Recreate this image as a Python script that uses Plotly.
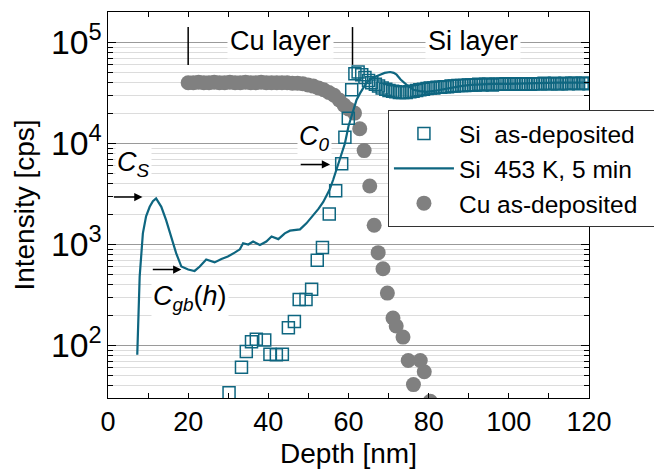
import numpy as np
import plotly.graph_objects as go

FONT = "Liberation Sans, Arial, sans-serif"
TEAL = "#0e6680"
GREY = "#808080"

# ---- data ----
si_asdep_depth = [30.2, 33.3, 34.5, 35.8, 37.0, 39.1, 40.4, 42.0, 43.5, 45.0, 46.5, 47.7, 49.4, 50.8,
                  52.2, 53.5, 55.2, 56.8, 58.3, 59.1, 59.95, 60.8, 61.6, 62.4, 63.3, 64.1, 65.0, 65.8,
                  66.7, 67.5, 68.4, 69.3, 70.1, 71.0, 71.8, 72.7, 73.5, 74.4, 75.3, 76.1, 77.0, 77.8,
                  78.7, 79.6, 80.4, 81.3, 82.1, 83.0, 83.9, 84.7, 85.6, 86.4, 87.3, 88.2, 89.0, 89.9,
                  90.7, 91.6, 92.5, 93.3, 94.2, 95.0, 95.9, 96.8, 97.6, 98.5, 99.3, 100.2, 101.1, 101.9,
                  102.8, 103.6, 104.5, 105.4, 106.2, 107.1, 107.9, 108.8, 109.7, 110.5, 111.4, 112.2,
                  113.1, 114.0, 114.8, 115.7, 116.5, 117.4, 118.3, 119.1, 120.0]
si_asdep_int = [34, 61, 87, 109, 115, 113, 82, 81, 82, 150, 173, 286, 286, 360,
                700, 935, 2000, 3400, 6300, 11500, 17800, 34000, 49000, 51000, 48000, 45000, 42000, 40000,
                38500, 37000, 35500, 34500, 33500, 33000, 32500, 32000, 32000, 32000, 32500, 33000, 33500, 34000,
                34500, 35000, 35500, 35500, 36000, 36000, 36500, 36500, 37000, 37000, 37500, 37500, 37500, 38000,
                38000, 38000, 38500, 38000, 38500, 38500, 38000, 38500, 38500, 38500, 39000, 38500, 38500, 39000,
                38500, 39000, 39000, 38500, 39000, 39000, 39000, 39500, 39000, 39000, 39500, 39000,
                39000, 39500, 39000, 39500, 39500, 39000, 39500, 39500, 39000]

si_ann_depth = [7.3, 7.6, 7.9, 8.7, 9.5, 10.4, 11.2, 12.0, 13.3, 14.5, 15.8, 17.0, 18.3, 20.0, 21.6,
                22.9, 24.5, 26.6, 28.3, 29.9, 31.6, 32.9, 33.7, 35.0, 36.2, 37.9, 39.5, 40.8, 42.5,
                44.1, 45.4, 47.9, 49.5, 51.2, 52.5, 53.7, 54.5, 55.3, 56.2, 57.0, 57.9, 58.7, 59.1,
                60.0, 61.2, 62.0, 62.9, 63.7, 64.5, 65.4, 66.5, 67.9, 69.0, 70.4, 71.3, 72.0, 73.0,
                74.5, 76.2, 77.8, 79.5, 82.0, 85.4, 88.0, 90.4, 93.0, 96.0, 100.0, 104.0, 108.0,
                112.0, 116.0, 120.0]
si_ann_int = [81, 193, 480, 1290, 1900, 2360, 2690, 2860, 2360, 1740, 1200, 820, 605, 565, 547,
              605, 710, 665, 720, 760, 830, 895, 1030, 1000, 1070, 990, 1070, 1200, 1130,
              1290, 1370, 1410, 1620, 1950, 2250, 2640, 3100, 3500, 4400, 5500, 6900, 8700, 10000,
              14800, 21400, 27000, 31500, 36000, 40000, 42700, 45500, 48000, 50000, 51000, 50000, 48000, 43000,
              38000, 34000, 33000, 32500, 33500, 35500, 37000, 38000, 38500, 39000, 39000, 39500, 39500,
              40000, 40000, 40000]

cu_depth = [20.0, 21.3, 22.6, 23.9, 25.2, 26.5, 27.8, 29.1, 30.4, 31.7, 33.0, 34.3, 35.6, 36.9,
            38.2, 39.5, 40.8, 42.1, 43.4, 44.7, 46.0, 47.3, 48.6, 49.9, 51.2, 52.5, 53.8, 55.1,
            56.4, 57.7, 58.9, 60.0, 61.5, 62.8, 63.9, 65.3, 66.4, 67.4, 68.6, 69.7, 71.1, 71.9,
            73.6, 74.9, 76.2, 77.9, 78.9, 80.4]
cu_int = [40000, 40000, 40500, 40000, 40000, 40500, 40000, 40000, 40500, 40000, 40000, 40500, 40000, 40000,
          40500, 40000, 40000, 40000, 40000, 40000, 39500, 39500, 39000, 38000, 37000, 35500, 34000, 32000,
          30000, 27000, 24000, 22000, 20000, 14000, 8500, 3800, 1550, 830, 575, 330, 187, 156,
          121, 71, 41, 71, 55, 28]

layer_bounds = [20, 61]
layer_labels = ["Cu layer", "Si layer"]
layer_label_x = [43, 91]

# ---- figure ----
fig = go.Figure()
fig.add_trace(go.Scatter(x=cu_depth, y=cu_int, mode="markers",
                         name="Cu as-deposited\u00a0\u00a0\u00a0\u00a0",
                         legendrank=3,
                         marker=dict(symbol="circle", size=15, color=GREY, line=dict(width=0))))
fig.add_trace(go.Scatter(x=si_asdep_depth, y=si_asdep_int, mode="markers", name="Si\u00a0 as-deposited",
                         legendrank=1,
                         marker=dict(symbol="square-open", size=12, color=TEAL, line=dict(width=1.5, color=TEAL))))
fig.add_trace(go.Scatter(x=si_ann_depth, y=si_ann_int, mode="lines", name="Si\u00a0 453 K, 5 min",
                         legendrank=2,
                         line=dict(color=TEAL, width=2.2)))

ylog_lo, ylog_hi = 1.48, 5.302

# the page body adds an 8 px offset, so the figure is 8 px smaller and margins shifted
fig.update_layout(
    width=654, height=467,
    margin=dict(l=100, r=73, t=4, b=77, autoexpand=False),
    paper_bgcolor="white", plot_bgcolor="white",
    font=dict(family=FONT, size=27, color="black"),
    showlegend=True,
    legend=dict(x=0.582, y=0.746, xanchor="left", yanchor="top",
                bgcolor="white", bordercolor="#333333", borderwidth=1,
                font=dict(family=FONT, size=24.5, color="black"),
                itemwidth=60, traceorder="normal", tracegroupgap=0),
)
fig.update_xaxes(range=[0, 120], dtick=20, tick0=0, ticks="inside", ticklen=5, tickwidth=1,
                 tickcolor="black", showline=True, linecolor="black", linewidth=1, mirror="ticks",
                 showgrid=False, zeroline=False,
                 minor=dict(dtick=10, tick0=0, ticks="inside", ticklen=5, tickwidth=1, tickcolor="black"),
                 tickfont=dict(size=27),
                 title=dict(text="Depth [nm]", font=dict(size=28), standoff=6))
fig.update_yaxes(type="log", range=[ylog_lo, ylog_hi], dtick=1, exponentformat="power",
                 ticks="inside", ticklen=8, tickwidth=1, tickcolor="black",
                 showline=True, linecolor="black", linewidth=1, mirror="ticks",
                 showgrid=True, gridcolor="#9a9a9a", gridwidth=1,
                 minor=dict(dtick="D1", ticks="inside", ticklen=5, tickwidth=1, tickcolor="black",
                            showgrid=True, gridcolor="#dcdcdc", gridwidth=1),
                 tickfont=dict(size=27),
                 title=dict(text="Intensity [cps]", font=dict(size=28), standoff=8))

# layer boundary bars
for b in layer_bounds:
    fig.add_shape(type="line", xref="x", yref="paper", x0=b, x1=b, y0=0.863, y1=0.961,
                  line=dict(color="black", width=1.5))
# layer labels
for t, xv in zip(layer_labels, layer_label_x):
    fig.add_annotation(x=xv, y=5.015, xref="x", yref="y", text=t, showarrow=False,
                       font=dict(size=27), bgcolor="white", borderpad=2)

# concentration labels
labels = [("<i>C</i><sub><i>S</i></sub>", 6.3, 3.80),
          ("<i>C</i><sub><i>0</i></sub>", 51.6, 4.05),
          ("<i>C</i><sub><i>gb</i></sub>(<i>h</i>)", 20.4, 2.47)]
for t, xv, yv in labels:
    fig.add_annotation(x=xv, y=yv, xref="x", yref="y", text=t, showarrow=False,
                       font=dict(size=27), bgcolor="white", borderpad=1)

# arrows: (tail_x, tip_x, intensity)
arrows = [(1.1, 8.6, 2950), (10.8, 18.3, 565), (47.7, 55.4, 6200)]
for x0, x1, yv in arrows:
    ly = float(np.log10(yv))
    fig.add_annotation(x=x1, y=ly, ax=x0, ay=ly, xref="x", yref="y", axref="x", ayref="y",
                       text="", showarrow=True, arrowhead=2, arrowsize=1.1, arrowwidth=1.5,
                       arrowcolor="black")

fig.write_html("out.html")
